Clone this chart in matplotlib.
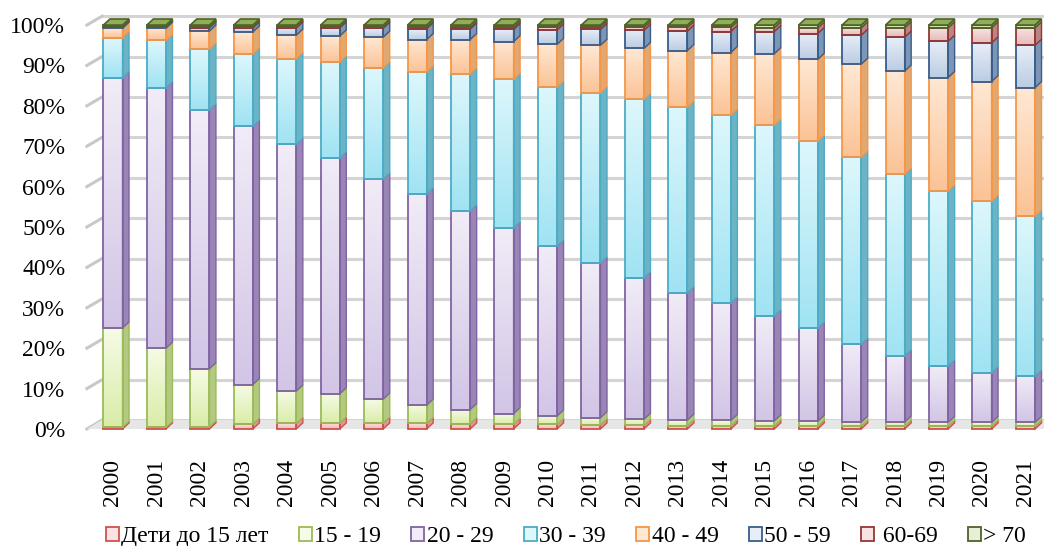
"""Age structure by year, 100% stacked 3D-like columns."""
import numpy as np
import matplotlib
matplotlib.use("Agg")
import matplotlib.pyplot as plt
from matplotlib.patches import Polygon, Patch

plt.rcParams['font.family'] = ['Liberation Serif', 'DejaVu Serif']

years = [str(y) for y in range(2000, 2022)]
groups = ["Дети до 15 лет", "15 - 19", "20 - 29", "30 - 39", "40 - 49",
          "50 - 59", " 60-69", "> 70"]

# shares, %
kids = [0.4, 0.4, 0.5, 1.2, 1.4, 1.5, 1.5, 1.4, 1.3, 1.2, 1.1,
        1.0, 0.9, 0.8, 0.8, 0.8, 0.7, 0.7, 0.7, 0.7, 0.7, 0.7]
age_15_19 = [24.6, 19.6, 14.4, 9.8, 8.0, 7.2, 5.9, 4.5, 3.5, 2.6, 2.1,
             1.8, 1.5, 1.4, 1.3, 1.2, 1.2, 1.0, 1.0, 0.9, 0.9, 0.9]
age_20_29 = [62.0, 64.5, 64.1, 64.0, 61.1, 58.4, 54.5, 52.3, 49.2, 46.0, 42.1,
             38.3, 35.0, 31.5, 29.1, 26.0, 23.1, 19.3, 16.4, 14.0, 12.3, 11.5]
age_30_39 = [9.9, 11.7, 15.1, 17.9, 21.2, 23.8, 27.5, 30.2, 33.9, 36.8, 39.4,
             42.1, 44.2, 46.0, 46.5, 47.2, 46.3, 46.3, 45.0, 43.3, 42.5, 39.6]
age_40_49 = [2.3, 3.0, 4.4, 5.4, 5.8, 6.4, 7.6, 8.0, 8.5, 9.3, 10.5,
             11.8, 12.6, 14.0, 15.5, 17.7, 20.2, 23.0, 25.5, 28.1, 29.6, 31.8]
age_50_59 = [0.3, 0.3, 0.8, 1.0, 1.8, 2.0, 2.2, 2.7, 2.6, 3.0, 3.6,
             3.9, 4.5, 4.8, 5.2, 5.5, 6.4, 7.2, 8.4, 9.0, 9.6, 10.5]
age_60_69 = [0.1, 0.1, 0.2, 0.2, 0.2, 0.2, 0.3, 0.3, 0.4, 0.5, 0.6,
             0.6, 0.7, 0.9, 1.0, 0.9, 1.4, 1.8, 2.3, 3.3, 3.7, 4.3]
age_70 = [0.4, 0.4, 0.5, 0.5, 0.5, 0.5, 0.5, 0.6, 0.6, 0.6, 0.6,
          0.5, 0.6, 0.6, 0.6, 0.7, 0.7, 0.7, 0.7, 0.7, 0.7, 0.7]

# (top of face, bottom of face, edge, side)
styles = [
    ("#FBE3E3", "#F2B9B8", "#D2504C", "#D99A98"),
    ("#F6FBE6", "#D9EDA8", "#9BBB59", "#B3C982"),
    ("#F1ECF7", "#D2C5E6", "#8064A2", "#9A86B6"),
    ("#DDF7FC", "#A0E3F3", "#4BACC6", "#6CB3C6"),
    ("#FFE8D4", "#FBC396", "#F79646", "#E0A873"),
    ("#E8EEF7", "#BBCCE3", "#385D8A", "#7E96B6"),
    ("#F7E3E3", "#E6BBBA", "#953735", "#B88584"),
    ("#E7F0D6", "#C4D79B", "#4F6228", "#8AA05A"),
]

data = np.array([kids, age_15_19, age_20_29, age_30_39, age_40_49,
                 age_50_59, age_60_69, age_70])
data = data / data.sum(axis=0) * 100

fig = plt.figure(figsize=(10.44, 5.46), dpi=100)
ax = fig.add_axes([0.0785, 0.1996, 0.9215, 0.7767])

w, dx, dy = 0.44, 0.15, 1.5      # bar width, depth offsets
gx0, gx1, gdy = -0.60, -0.25, 2.2  # wall offsets

# back wall grid and left stubs
for v in range(0, 101, 10):
    ax.plot([gx1, 21.6], [v + gdy, v + gdy], color="#D4D4D4", lw=2.2,
            zorder=0, solid_capstyle="butt")
    ax.plot([gx0, gx1], [v, v + gdy], color="#C8C8C8", lw=2.2, zorder=0)
ax.add_patch(Polygon([[gx0, 0], [21.6, 0], [21.6, gdy], [gx1, gdy]],
                     closed=True, facecolor="#E6E6E6", edgecolor="none",
                     zorder=0))

x = np.arange(len(years))
for i in x:
    base = 0.0
    for k, (c_top, c_bot, c_edge, c_side) in enumerate(styles):
        h = data[k, i]
        y0, y1 = base, base + h
        grad = np.linspace(0, 1, 64)[:, None]
        ct = np.array(matplotlib.colors.to_rgb(c_top))
        cb = np.array(matplotlib.colors.to_rgb(c_bot))
        img = (ct * (1 - grad) + cb * grad)[:, None, :]
        ax.imshow(img, extent=(i - w / 2, i + w / 2, y0, y1), origin="upper",
                  aspect="auto", interpolation="bilinear", zorder=2)
        ax.add_patch(Polygon([[i - w / 2, y0], [i + w / 2, y0],
                              [i + w / 2, y1], [i - w / 2, y1]], closed=True,
                             fill=False, edgecolor=c_edge, lw=1.3, zorder=3))
        ax.add_patch(Polygon([[i + w / 2, y0], [i + w / 2 + dx, y0 + dy],
                              [i + w / 2 + dx, y1 + dy], [i + w / 2, y1]],
                             closed=True, facecolor=c_side, edgecolor=c_edge,
                             lw=1.0, zorder=2))
        base = y1
    # top face of the column
    ax.add_patch(Polygon([[i - w / 2, 100], [i + w / 2, 100],
                          [i + w / 2 + dx, 100 + dy], [i - w / 2 + dx, 100 + dy]],
                         closed=True, facecolor="#8FAE57", edgecolor="#4F6228",
                         lw=1.2, zorder=3))

ax.set_xlim(-0.7135, 21.427)
ax.set_ylim(-2, 103)
ax.set_yticks(range(0, 101, 10))
ax.set_yticklabels([f"{v}%" for v in range(0, 101, 10)], fontsize=17)
ax.set_xticks(x)
ax.set_xticklabels(years, rotation=90, fontsize=17)
ax.tick_params(axis="y", length=0, pad=12)
ax.tick_params(axis="x", length=0, pad=16)
for s in ax.spines.values():
    s.set_visible(False)

handles = [Patch(facecolor=st[0], edgecolor=st[2], lw=1.3) for st in styles]
fig.legend(handles, groups, loc="center", bbox_to_anchor=(0.542, 0.017),
           ncol=8, frameon=False, fontsize=17, handlelength=0.55,
           handleheight=0.55, handletextpad=0.1, columnspacing=1.29,
           borderpad=0)

fig.savefig("out.png", dpi=100)
